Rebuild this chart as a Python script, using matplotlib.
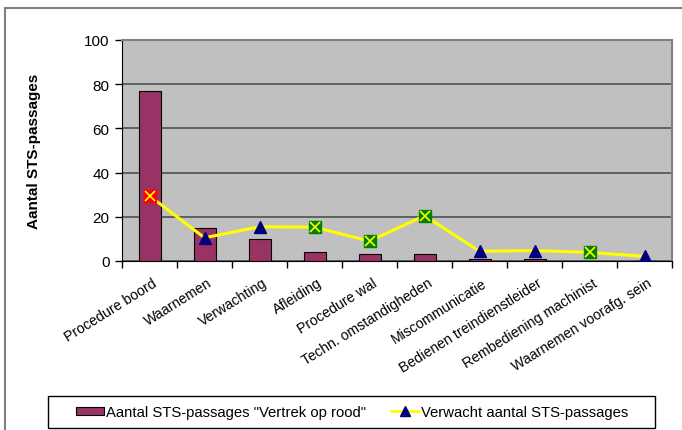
import numpy as np
import matplotlib.pyplot as plt
from matplotlib.patches import Rectangle
from matplotlib.lines import Line2D

plt.rcParams['font.family'] = ['Liberation Sans', 'DejaVu Sans']

categories = ['Procedure boord', 'Waarnemen', 'Verwachting', 'Afleiding', 'Procedure wal',
              'Techn. omstandigheden', 'Miscommunicatie', 'Bedienen treindienstleider',
              'Rembediening machinist', 'Waarnemen voorafg. sein']
bar_values = [77, 15, 10, 4, 3, 3, 1, 1, 0, 0]
expected = [29.5, 10.5, 15.5, 15.3, 9.0, 20.5, 4.4, 4.7, 3.9, 2.1]
# marker type per point: 'xr' red square with cross, 'xg' green square with cross, 't' triangle
marker_types = ['xr', 't', 't', 'xg', 'xg', 'xg', 't', 't', 'xg', 't']

fig = plt.figure(figsize=(6.82, 4.31), dpi=100)
ax = fig.add_axes([122/682, 1 - 262/431, 550/682, 221/431])

x = np.arange(len(categories))
ax.set_facecolor('#c0c0c0')
ax.bar(x, bar_values, width=0.4, color='#993366', edgecolor='black', linewidth=0.8, zorder=3)
ax.plot(x, expected, color='#ffff00', linewidth=2.2, zorder=4)

for xi, yi, mt in zip(x, expected, marker_types):
    if mt == 't':
        ax.plot(xi, yi, marker='^', color='#000080', markersize=8, zorder=5)
    else:
        fc = '#ff0000' if mt == 'xr' else '#008000'
        ax.plot(xi, yi, marker='s', markerfacecolor=fc, markeredgecolor=fc, markersize=8, zorder=5)
        ax.plot(xi, yi, marker='x', color='#ffff00', markersize=7, markeredgewidth=1.2, zorder=6)

ax.set_xlim(-0.5, len(categories) - 0.5)
ax.set_ylim(0, 100)
ax.set_yticks(range(0, 101, 20))
ax.yaxis.grid(True, color='#505050', linewidth=1.2, zorder=1)
ax.set_axisbelow(True)

ax.set_xticks(np.arange(-0.5, len(categories), 1.0))
ax.set_xticklabels([])
ax.tick_params(axis='x', direction='out', length=5, width=1, colors='black')
ax.tick_params(axis='y', direction='out', length=5, width=1, labelsize=11, pad=4)
for i, lab in enumerate(categories):
    ax.text(i + 0.05, -6.5, lab, rotation=32, ha='right', va='top', fontsize=10.2,
            rotation_mode='anchor')

for side in ['top', 'right']:
    ax.spines[side].set_color('#808080')
    ax.spines[side].set_linewidth(1.5)
ax.spines['left'].set_color('black')
ax.spines['bottom'].set_color('black')

ax.set_ylabel('Aantal STS-passages', fontsize=11, fontweight='bold', labelpad=31)

# outer chart frame
fig.patches.append(Rectangle((5/682, -0.05), 1.2, 1 - 9/431 + 0.05, transform=fig.transFigure,
                             fill=False, edgecolor='#808080', linewidth=1.5))

# legend box
fig.patches.append(Rectangle((48/682, 1 - 429/431), 607/682, 32/431, transform=fig.transFigure,
                             fill=True, facecolor='white', edgecolor='black', linewidth=1.0))

handles = [Rectangle((0, 0), 1, 1, facecolor='#993366', edgecolor='black', linewidth=0.8),
           Line2D([], [], color='#ffff00', linewidth=2, marker='^', markerfacecolor='#000080',
                  markeredgecolor='#000080', markersize=7)]
leg = fig.legend(handles, ['Aantal STS-passages "Vertrek op rood"', 'Verwacht aantal STS-passages'],
                 loc='center', bbox_to_anchor=(352/682, 1 - 413/431), ncol=2, fontsize=10.7,
                 frameon=False, handlelength=1.9, handleheight=0.45,
                 handletextpad=0.1, columnspacing=1.7, borderpad=0.3, borderaxespad=0)

fig.savefig('out.png', dpi=100)
